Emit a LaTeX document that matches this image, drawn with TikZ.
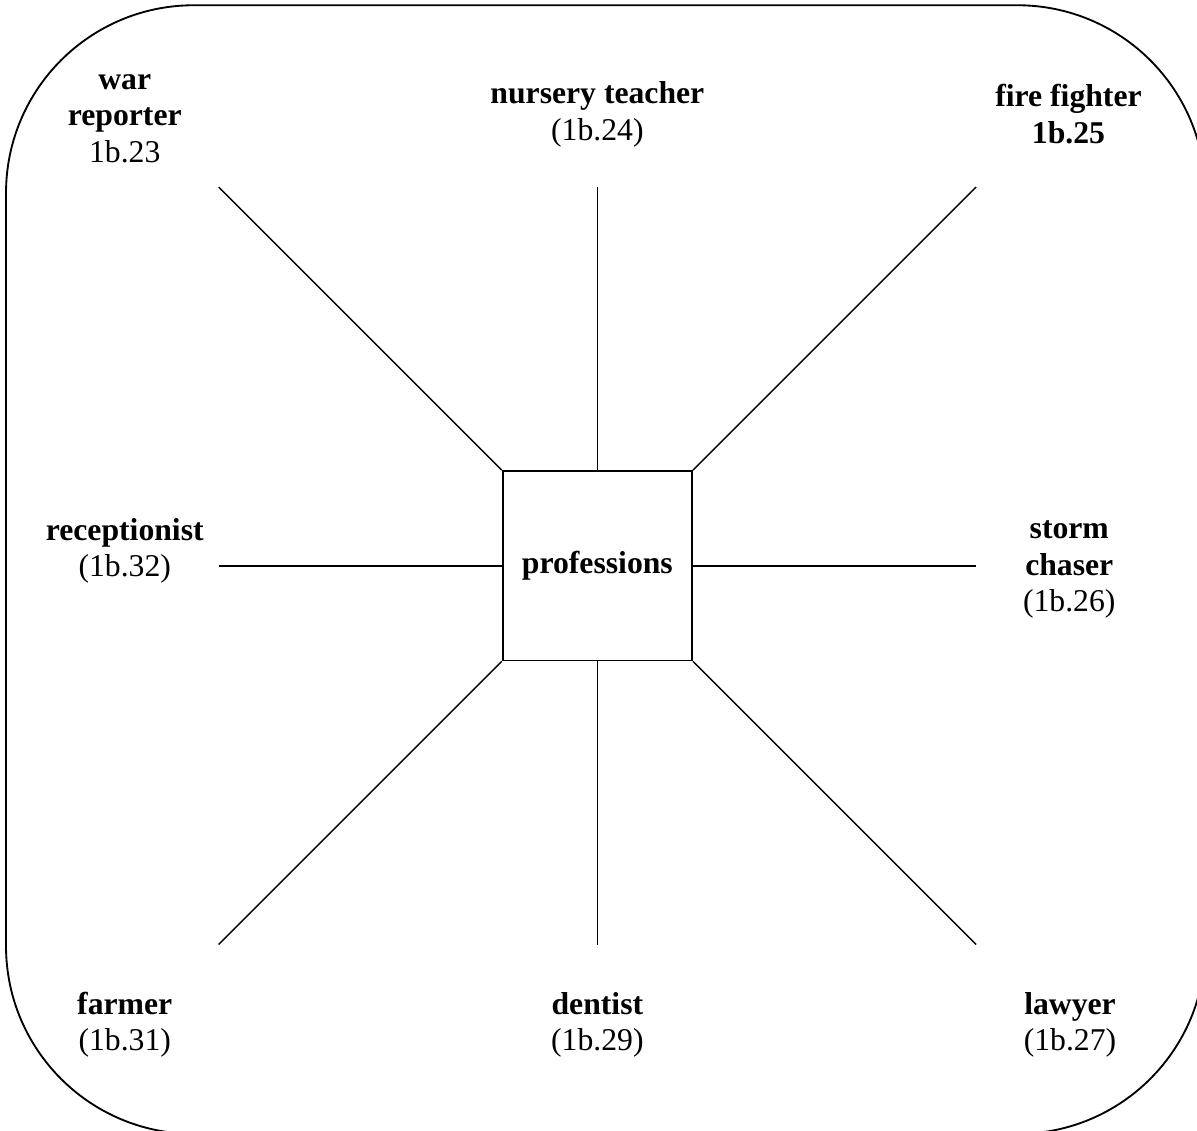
\documentclass[tikz,border=0pt]{standalone}
\usepackage{fontspec}
\setmainfont{Liberation Serif}
\begin{document}
\begin{tikzpicture}[
    hub/.style={rectangle, draw, line width=0.7pt, minimum size=2.52cm, inner sep=0pt, font=\fontsize{12}{13.8}\selectfont\bfseries},
    job/.style={align=center, inner sep=0pt, font=\fontsize{12}{13.8}\selectfont},
    spoke/.style={line width=0.55pt}
]
    \useasboundingbox (0, 0) rectangle (15.93, 15.04);

    % --- frame ---
    \draw[line width=0.7pt, rounded corners=2.5cm] (0.08, -0.05) rectangle (16.04, 14.97);

    % --- centre ---
    \node[hub] (hub) at (7.95, 7.51) {professions};

    % --- free ends of the spokes ---
    \coordinate (tl) at (2.91, 12.55);
    \coordinate (t)  at (7.95, 12.55);
    \coordinate (tr) at (12.99, 12.55);
    \coordinate (l)  at (2.91, 7.51);
    \coordinate (r)  at (12.99, 7.51);
    \coordinate (bl) at (2.91, 2.47);
    \coordinate (b)  at (7.95, 2.47);
    \coordinate (br) at (12.99, 2.47);

    \draw[spoke] (hub.north west) -- (tl);
    \draw[spoke] (hub.north) -- (t);
    \draw[spoke] (hub.north east) -- (tr);
    \draw[spoke] (hub.west) -- (l);
    \draw[spoke] (hub.east) -- (r);
    \draw[spoke] (hub.south west) -- (bl);
    \draw[spoke] (hub.south) -- (b);
    \draw[spoke] (hub.south east) -- (br);

    % --- labels ---
    \node[job] (war) at (1.66, 13.46) {\textbf{war}\\\textbf{reporter}\\1b.23};
    \node[job] (nursery) at (7.95, 13.52) {\textbf{nursery teacher}\\(1b.24)};
    \node[job] (fire) at (14.22, 13.52) {\textbf{fire fighter}\\\textbf{1b.25}};
    \node[job] (recept) at (1.66, 7.71) {\textbf{receptionist}\\(1b.32)};
    \node[job] (storm) at (14.23, 7.46) {\textbf{storm}\\\textbf{chaser}\\(1b.26)};
    \node[job] (farmer) at (1.66, 1.40) {\textbf{farmer}\\(1b.31)};
    \node[job] (dentist) at (7.95, 1.40) {\textbf{dentist}\\(1b.29)};
    \node[job] (lawyer) at (14.24, 1.40) {\textbf{lawyer}\\(1b.27)};
\end{tikzpicture}
\end{document}
